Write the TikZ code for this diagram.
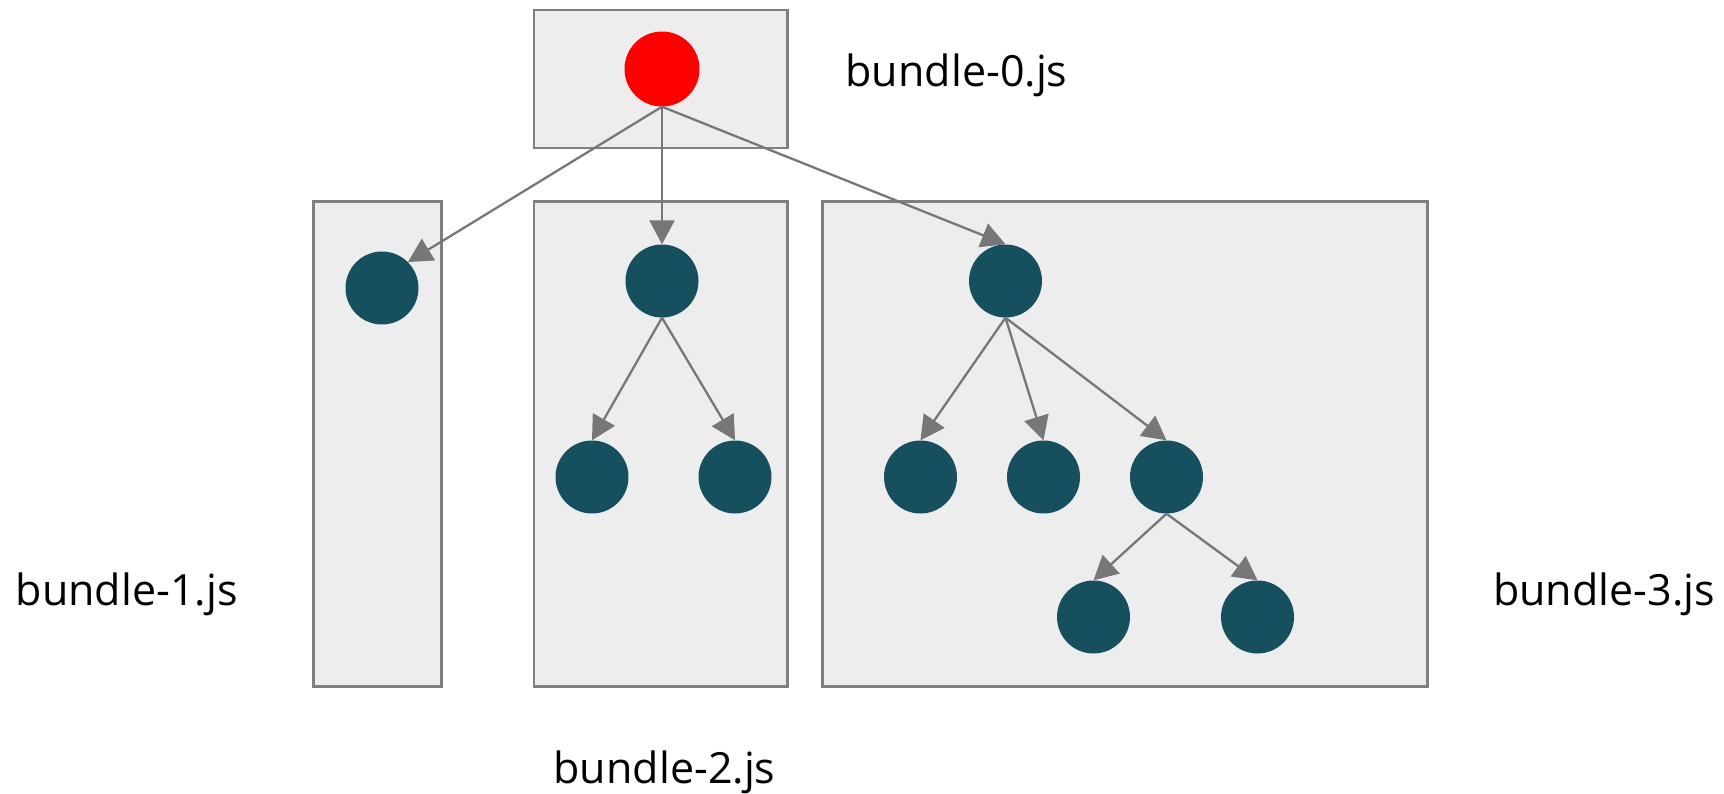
\documentclass[tikz,border=0pt]{standalone}
\usepackage{fontspec}
\setmainfont{Open Sans}
\usetikzlibrary{arrows.meta}
\definecolor{boxfill}{HTML}{EDEDED}
\definecolor{boxline}{HTML}{7F7F7F}
\definecolor{arrowgray}{HTML}{777777}
\definecolor{teal}{HTML}{164F5E}
\definecolor{hot}{HTML}{FF0000}
\begin{document}
\begin{tikzpicture}[x=1pt,y=-1pt,
  bundlebox/.style={draw=boxline,fill=boxfill,line width=2.2pt,inner sep=0pt,rectangle},
  mod/.style={circle,fill=teal,minimum size=73pt,inner sep=0pt},
  entry/.style={circle,fill=hot,minimum size=75pt,inner sep=0pt},
  dep/.style={draw=arrowgray,line width=2.3pt,-{Triangle[length=24pt,width=25pt]}},
  lbl/.style={font=\fontsize{43}{50}\selectfont,anchor=base,inner sep=0pt}]
\useasboundingbox (0,0) rectangle (1724,793);
\fill[white] (0,0) rectangle (1724,793);
% bundles
\node[bundlebox,minimum width=253.5pt,minimum height=138pt] (bx0) at (660.75,79) {};
\node[bundlebox,minimum width=128pt,minimum height=485pt] (bx1) at (377.5,444) {};
\node[bundlebox,minimum width=253.5pt,minimum height=485pt] (bx2) at (660.75,444) {};
\node[bundlebox,minimum width=605pt,minimum height=485pt] (bx3) at (1125,444) {};
% modules
\node[entry] (red) at (662,69) {};
\node[mod] (b1) at (382,288) {};
\node[mod] (b2r) at (662,281) {};
\node[mod] (b2a) at (592,477) {};
\node[mod] (b2b) at (735,477) {};
\node[mod] (b3r) at (1005.5,281) {};
\node[mod] (c1) at (920.5,477) {};
\node[mod] (c2) at (1043.5,477) {};
\node[mod] (c3) at (1166.5,477) {};
\node[mod] (g1) at (1093.5,617) {};
\node[mod] (g2) at (1257.5,617) {};
% edges
\draw[dep] (red.south) -- (b1.45);
\draw[dep] (red.south) -- (b2r.north);
\draw[dep] (red.south) -- (b3r.north);
\draw[dep] (b2r.south) -- (b2a.north);
\draw[dep] (b2r.south) -- (b2b.north);
\draw[dep] (b3r.south) -- (c1.north);
\draw[dep] (b3r.south) -- (c2.north);
\draw[dep] (b3r.south) -- (c3.north);
\draw[dep] (c3.south) -- (g1.north);
\draw[dep] (c3.south) -- (g2.north);
% labels
\node[lbl] (l0) at (956.5,86) {bundle-0.js};
\node[lbl] (l1) at (126.7,605) {bundle-1.js};
\node[lbl] (l2) at (664.5,783) {bundle-2.js};
\node[lbl] (l3) at (1603.9,605) {bundle-3.js};
\end{tikzpicture}
\end{document}
